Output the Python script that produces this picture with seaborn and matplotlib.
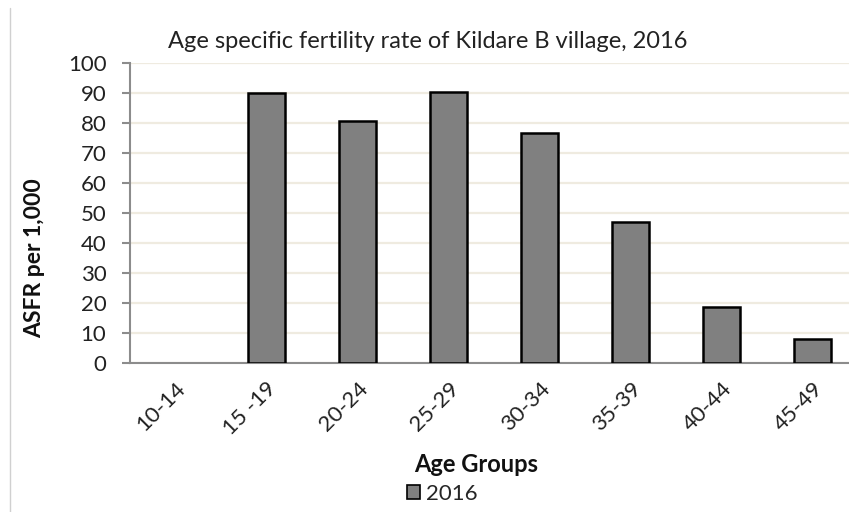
import matplotlib
matplotlib.use("Agg")
import matplotlib.pyplot as plt
import seaborn as sns
import pandas as pd
from matplotlib.patches import Patch
from matplotlib.lines import Line2D

categories = ["10-14", "15 -19", "20-24", "25-29", "30-34", "35-39", "40-44", "45-49"]
values_2016 = [0, 90, 80.7, 90.4, 76.6, 47, 18.8, 8.1]
series_name = "2016"
title = "Age specific fertility rate of Kildare B village, 2016"
y_ticks = [0, 10, 20, 30, 40, 50, 60, 70, 80, 90, 100]

sns.set_theme(style="white")
plt.rcParams['font.family'] = ['Lato', 'DejaVu Sans']

df = pd.DataFrame({"Age": categories, "ASFR": values_2016})

fig = plt.figure(figsize=(8.49, 5.12), dpi=100)
ax = fig.add_axes([130/849, 1-363/512, (858-130)/849, 300/512])

sns.barplot(data=df, x="Age", y="ASFR", color="#808080", edgecolor="black",
            linewidth=1.8, width=0.4, saturation=1, ax=ax, zorder=3)
for p in ax.patches:
    if p.get_height() == 0:
        p.set_linewidth(0)

ax.set_xlim(-0.5, len(categories) - 0.5)
ax.set_ylim(0, 100)
ax.set_yticks(y_ticks)
ax.set_yticklabels([str(t) for t in y_ticks], fontsize=16, color="#222222")
ax.yaxis.grid(True, color="#EFEBE0", linewidth=1.6, zorder=0)
ax.set_axisbelow(True)

ax.set_xticks(range(len(categories)))
ax.set_xticklabels(categories, rotation=45, ha="right", rotation_mode="anchor",
                   fontsize=16, color="#222222")
ax.set_xticks([i - 0.5 for i in range(len(categories) + 1)], minor=True)
ax.tick_params(axis="x", which="major", length=0, pad=11)
ax.tick_params(axis="x", which="minor", length=6, width=1.5, color="#8C8C8C", direction="out")
ax.tick_params(axis="y", which="major", length=6, width=1.5, color="#8C8C8C", direction="out", pad=11, left=True)

for s in ["top", "right"]:
    ax.spines[s].set_visible(False)
for s in ["left", "bottom"]:
    ax.spines[s].set_color("#8C8C8C")
    ax.spines[s].set_linewidth(1.5)

ax.set_xlabel("")
ax.set_ylabel("")

fig.text(428/849, 1-42/512, title, ha="center", va="center", fontsize=17, color="#222222")
fig.text(35/849, 1-258/512, "ASFR per 1,000", rotation=90, ha="center", va="center",
         fontsize=16.5, fontweight="bold", color="#111111")
fig.text(476/849, 1-465/512, "Age Groups", ha="center", va="center",
         fontsize=17, fontweight="bold", color="#111111")

handle = Patch(facecolor="#808080", edgecolor="black", linewidth=1.2)
fig.legend([handle], [series_name], loc="center", bbox_to_anchor=(442/849, 1-494/512),
           frameon=False, fontsize=16, handlelength=0.6, handleheight=0.6,
           handletextpad=0.25, borderpad=0)

fig.add_artist(Line2D([10/849, 10/849], [0, 1-8/512], transform=fig.transFigure,
                      color="#D0D0D0", linewidth=1))

fig.savefig("out.png", dpi=100)
